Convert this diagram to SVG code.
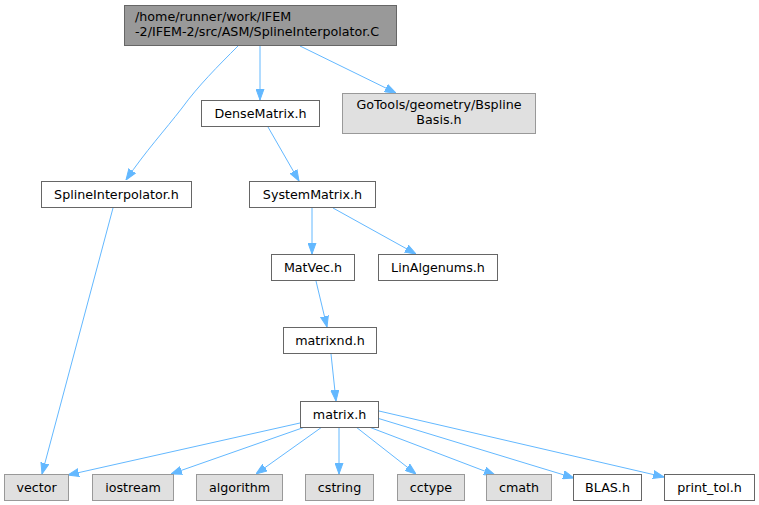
<svg xmlns="http://www.w3.org/2000/svg" width="759" height="505" viewBox="0 0 759 505">
<defs>
<marker id="ah" markerWidth="11" markerHeight="9" refX="11" refY="4.5" orient="auto" markerUnits="userSpaceOnUse">
<path d="M0,0.5 L11,4.5 L0,8.5 Z" fill="#63b8ff" stroke="#63b8ff" stroke-width="1"/>
</marker>
</defs>
<style>
text{font-family:"DejaVu Sans","Liberation Sans",sans-serif;font-size:12.7px;fill:#000}
.w rect{fill:#fff;stroke:#666;stroke-width:1}
.g rect{fill:#e0e0e0;stroke:#999;stroke-width:1}
.t rect{fill:#999;stroke:#666;stroke-width:1}
.c text{text-anchor:middle}
#edges path{fill:none;stroke:#63b8ff;stroke-width:1;marker-end:url(#ah)}
</style>
<g id="edges">
<path d="M238,46 C218,66 198,86 182,108 C165,130 145,152 126,180"/>
<path d="M260,46 L260,100"/>
<path d="M300,46 L396,93"/>
<path d="M268,127 L299,181"/>
<path d="M113,208 L42,474"/>
<path d="M312,208 L312,254"/>
<path d="M333,208 L416,254"/>
<path d="M316,281 L327,327"/>
<path d="M331,354 L336,401"/>
<path d="M300,423 L68,475"/>
<path d="M305,427 L171,474"/>
<path d="M322,427 L256,474"/>
<path d="M339,427 L339,474"/>
<path d="M356,427 L416,474"/>
<path d="M369,427 L495,475"/>
<path d="M377,418 L574,478"/>
<path d="M379,411 L664,477"/>
</g>
<g id="n_top" class="t"><rect x="124.5" y="5.5" width="272" height="40"/><text x="135" y="21">/home/runner/work/IFEM</text><text x="135" y="36">-2/IFEM-2/src/ASM/SplineInterpolator.C</text></g>
<g id="n_dense" class="w c"><rect x="201.5" y="100.5" width="118" height="26"/><text x="260.5" y="118">DenseMatrix.h</text></g>
<g id="n_gotools" class="g c"><rect x="342.5" y="93.5" width="193" height="40"/><text x="439" y="109">GoTools/geometry/Bspline</text><text x="439" y="124">Basis.h</text></g>
<g id="n_spline" class="w c"><rect x="41.5" y="181.5" width="150" height="26"/><text x="116.5" y="199">SplineInterpolator.h</text></g>
<g id="n_system" class="w c"><rect x="249.5" y="181.5" width="126" height="26"/><text x="312.5" y="199">SystemMatrix.h</text></g>
<g id="n_matvec" class="w c"><rect x="271.5" y="254.5" width="83" height="26"/><text x="313" y="272">MatVec.h</text></g>
<g id="n_linalg" class="w c"><rect x="378.5" y="254.5" width="119" height="26"/><text x="438" y="272">LinAlgenums.h</text></g>
<g id="n_matrixnd" class="w c"><rect x="283.5" y="327.5" width="93" height="26"/><text x="330" y="345">matrixnd.h</text></g>
<g id="n_matrix" class="w c"><rect x="300.5" y="401.5" width="78" height="26"/><text x="339.5" y="419">matrix.h</text></g>
<g id="n_vector" class="g c"><rect x="4.5" y="474.5" width="64" height="26"/><text x="36.5" y="492">vector</text></g>
<g id="n_iostream" class="g c"><rect x="92.5" y="474.5" width="81" height="26"/><text x="133" y="492">iostream</text></g>
<g id="n_algorithm" class="g c"><rect x="196.5" y="474.5" width="86" height="26"/><text x="239.5" y="492">algorithm</text></g>
<g id="n_cstring" class="g c"><rect x="305.5" y="474.5" width="68" height="26"/><text x="339.5" y="492">cstring</text></g>
<g id="n_cctype" class="g c"><rect x="397.5" y="474.5" width="67" height="26"/><text x="431" y="492">cctype</text></g>
<g id="n_cmath" class="g c"><rect x="486.5" y="474.5" width="65" height="26"/><text x="519" y="492">cmath</text></g>
<g id="n_blas" class="w c"><rect x="573.5" y="474.5" width="68" height="26"/><text x="607.5" y="492">BLAS.h</text></g>
<g id="n_printtol" class="w c"><rect x="664.5" y="474.5" width="90" height="26"/><text x="709.5" y="492">print_tol.h</text></g>
</svg>
